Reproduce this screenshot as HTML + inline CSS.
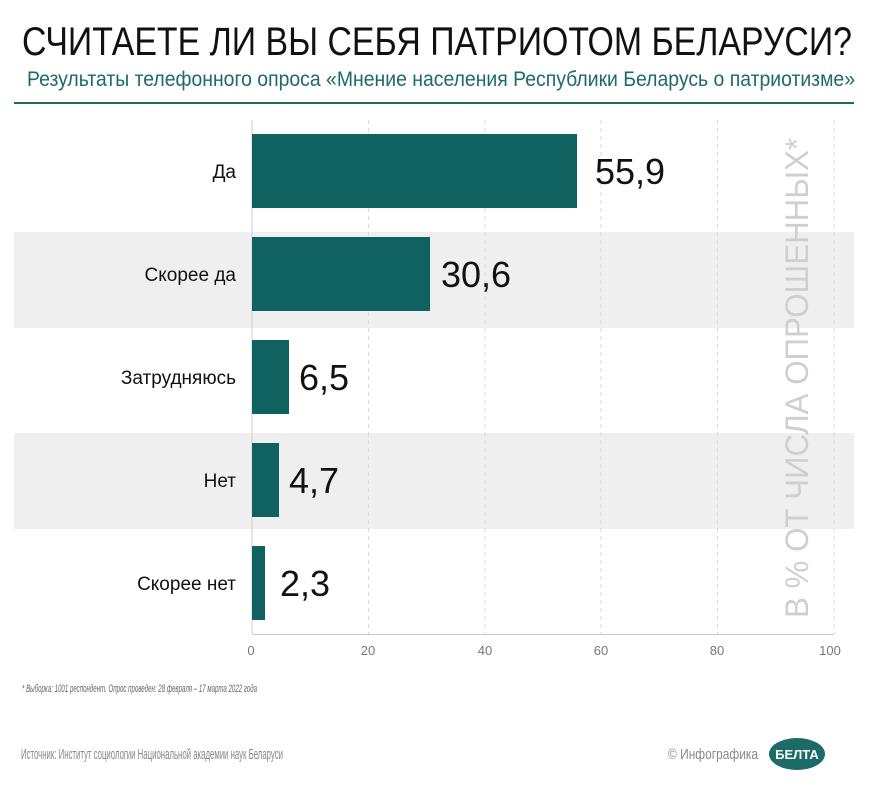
<!DOCTYPE html>
<html><head><meta charset="utf-8"><style>
html,body{margin:0;padding:0;background:#fff}
</style></head><body>
<svg width="870" height="792" xmlns="http://www.w3.org/2000/svg" font-family="Liberation Sans, sans-serif">
<rect width="870" height="792" fill="#fff"/>
<text x="22" y="55" font-size="40" fill="#111" textLength="830" lengthAdjust="spacingAndGlyphs">СЧИТАЕТЕ ЛИ ВЫ СЕБЯ ПАТРИОТОМ БЕЛАРУСИ?</text>
<text x="27" y="86" font-size="21" fill="#1d6b66" textLength="828" lengthAdjust="spacingAndGlyphs">Результаты телефонного опроса «Мнение населения Республики Беларусь о патриотизме»</text>
<rect x="14" y="102" width="840" height="2" fill="#1d6b66"/>
<rect x="14" y="232" width="840" height="96" fill="#efefef"/>
<rect x="14" y="433" width="840" height="96" fill="#efefef"/>
<g stroke="#d8d8d8" stroke-dasharray="4,4" stroke-width="1">
<line x1="368.5" y1="120" x2="368.5" y2="634"/>
<line x1="485" y1="120" x2="485" y2="634"/>
<line x1="601" y1="120" x2="601" y2="634"/>
<line x1="717.5" y1="120" x2="717.5" y2="634"/>
<line x1="834" y1="120" x2="834" y2="634"/>
</g>
<line x1="252" y1="120" x2="252" y2="634" stroke="#ccc"/>
<line x1="252" y1="634.5" x2="834" y2="634.5" stroke="#ccc"/>
<g fill="#0f625f">
<rect x="252" y="134" width="325" height="74"/>
<rect x="252" y="237" width="178" height="74"/>
<rect x="252" y="340" width="37" height="74"/>
<rect x="252" y="443" width="27" height="74"/>
<rect x="252" y="546" width="13" height="74"/>
</g>
<g font-size="19" fill="#111" text-anchor="end">
<text x="236" y="178">Да</text>
<text x="236" y="281">Скорее да</text>
<text x="236" y="384">Затрудняюсь</text>
<text x="236" y="487">Нет</text>
<text x="236" y="590">Скорее нет</text>
</g>
<g font-size="36" fill="#111">
<text x="595" y="184">55,9</text>
<text x="441" y="287">30,6</text>
<text x="299" y="390">6,5</text>
<text x="289" y="493">4,7</text>
<text x="280" y="596">2,3</text>
</g>
<g font-size="13" fill="#777" text-anchor="middle">
<text x="251" y="655">0</text><text x="368" y="655">20</text><text x="485" y="655">40</text>
<text x="601" y="655">60</text><text x="717" y="655">80</text><text x="830" y="655">100</text>
</g>
<text transform="translate(808,618) rotate(-90)" font-size="32" fill="#cfcfcf" textLength="480" lengthAdjust="spacingAndGlyphs">В % ОТ ЧИСЛА ОПРОШЕННЫХ*</text>
<text x="22" y="692" font-size="11" font-style="italic" fill="#666" textLength="235" lengthAdjust="spacingAndGlyphs">* Выборка: 1001 респондент. Опрос проведен: 28 февраля – 17 марта 2022 года</text>
<text x="21" y="759" font-size="15" fill="#888" textLength="262" lengthAdjust="spacingAndGlyphs">Источник: Институт социологии Национальной академии наук Беларуси</text>
<text x="668" y="759" font-size="15" fill="#888" textLength="90" lengthAdjust="spacingAndGlyphs">© Инфографика</text>
<ellipse cx="797" cy="754" rx="28" ry="16" fill="#1d6b66"/>
<text x="797" y="759" font-size="13" font-weight="bold" fill="#fff" text-anchor="middle">БЕЛТА</text>
</svg>
</body></html>
